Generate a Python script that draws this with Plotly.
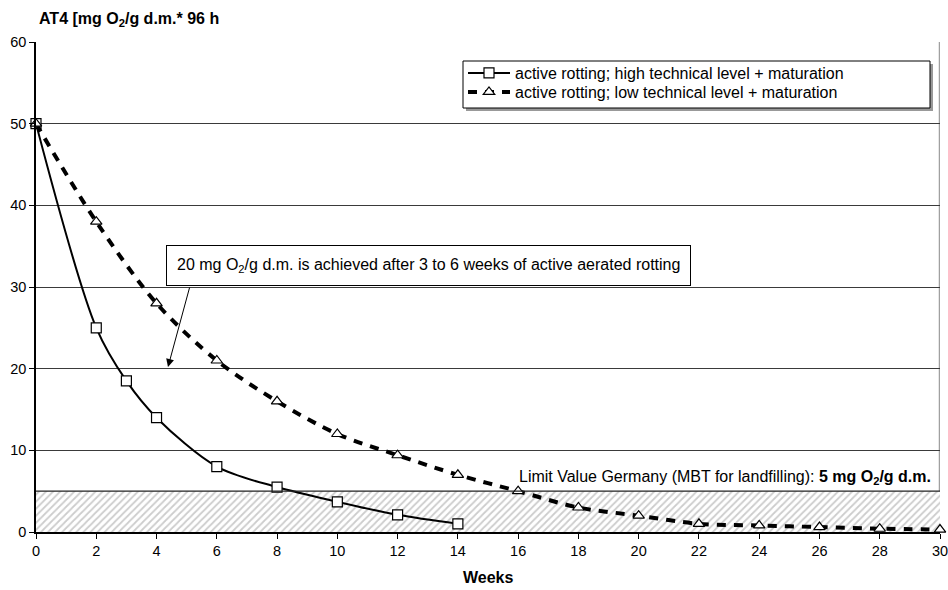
import plotly.graph_objects as go

# ---- data ----
weeks_high = [0, 2, 3, 4, 6, 8, 10, 12, 14]
at4_high = [50, 25, 18.5, 14, 8, 5.5, 3.7, 2.1, 1.0]
weeks_low = [0, 2, 4, 6, 8, 10, 12, 14, 16, 18, 20, 22, 24, 26, 28, 30]
at4_low = [50, 38, 28, 21, 16, 12, 9.4, 7, 5, 3, 2, 1, 0.8, 0.6, 0.4, 0.3]
limit_value = 5
x_ticks = list(range(0, 31, 2))
y_ticks = [0, 10, 20, 30, 40, 50, 60]
name_high = "active rotting; high technical level + maturation"
name_low = "active rotting; low technical level + maturation"

FONT = "Arial, Liberation Sans, Helvetica, sans-serif"
TXT = 16
TICK = 14.5

FIG_W, FIG_H = 948, 590
# plot area in pixels: x 36..940, y 42..532
L, R, T, B = 36, 940, 42, 532
W, H = R - L, B - T
def px(x):
    return (x - L) / W
def py(y):
    return (B - y) / H

fig = go.Figure()

# hatched limit zone
fig.add_trace(go.Scatter(
    x=[x_ticks[0], x_ticks[-1], x_ticks[-1], x_ticks[0], x_ticks[0]],
    y=[0, 0, limit_value, limit_value, 0],
    mode="lines", fill="toself", fillcolor="white",
    fillpattern=dict(shape="/", fgcolor="#9a9a9a", bgcolor="white", size=5, solidity=0.35),
    line=dict(width=0), showlegend=False, hoverinfo="skip"))

fig.add_trace(go.Scatter(
    x=weeks_high, y=at4_high, name=name_high, mode="lines+markers",
    line=dict(color="black", width=2, shape="spline", smoothing=0.9),
    marker=dict(symbol="square", size=10, color="white", line=dict(color="black", width=1.2)),
    cliponaxis=False, legend="legend"))

fig.add_trace(go.Scatter(
    x=weeks_low, y=at4_low, name=name_low, mode="lines+markers",
    line=dict(color="black", width=4, dash="9px,8px", shape="spline", smoothing=0.9),
    marker=dict(symbol="triangle-up", size=10, color="white", line=dict(color="black", width=1.2)),
    cliponaxis=False, legend="legend2"))

shapes = [
    dict(type="line", xref="x", yref="y", x0=0, x1=30, y0=limit_value, y1=limit_value,
         line=dict(color="#222", width=1.3), layer="above"),
    dict(type="line", xref="x", yref="y", x0=30, x1=30, y0=0, y1=60,
         line=dict(color="#a0a0a0", width=2.5), layer="below"),
    dict(type="rect", xref="paper", yref="paper", x0=px(466), x1=px(933), y0=py(111), y1=py(64),
         line=dict(width=0), fillcolor="#999", layer="above"),
    dict(type="rect", xref="paper", yref="paper", x0=px(463), x1=px(930), y0=py(108), y1=py(61),
         line=dict(color="black", width=1), fillcolor="white", layer="above"),
]

annotations = [
    dict(text="<b>AT4 [mg O<sub>2</sub>/g d.m.* 96 h</b>", xref="paper", yref="paper",
         x=px(37), y=py(20), xanchor="left", yanchor="middle", showarrow=False,
         font=dict(size=TXT, family=FONT, color="black")),
    dict(text="<b>Weeks</b>", xref="paper", yref="paper",
         x=px(488), y=py(577), xanchor="center", yanchor="middle", showarrow=False,
         font=dict(size=TXT, family=FONT, color="black")),
    dict(text="20 mg O<sub>2</sub>/g d.m. is achieved after 3 to 6 weeks of active aerated rotting",
         xref="paper", yref="paper", x=px(428), y=py(265), xanchor="center", yanchor="middle",
         showarrow=False, bordercolor="black", borderwidth=1, borderpad=10, bgcolor="white",
         font=dict(size=TXT, family=FONT, color="black")),
    dict(text="", xref="x", yref="y", x=4.38, y=20.2, axref="x", ayref="y",
         ax=(190 - L) / W * 30, ay=(B - 286) / H * 60,
         showarrow=True, arrowhead=2, arrowsize=1.6, arrowwidth=1, arrowcolor="black"),
    dict(text="Limit Value Germany (MBT for landfilling): <b>5 mg O<sub>2</sub>/g d.m.</b>",
         xref="paper", yref="paper", x=px(933), y=py(477), xanchor="right", yanchor="middle",
         showarrow=False, font=dict(size=TXT, family=FONT, color="black")),
]

legend_common = dict(xanchor="left", yanchor="top", bgcolor="rgba(0,0,0,0)", borderwidth=0,
                     itemwidth=42, font=dict(size=TXT, family=FONT, color="black"))

fig.update_layout(
    width=FIG_W, height=FIG_H,
    margin=dict(l=L, r=FIG_W - R, t=T, b=FIG_H - B, autoexpand=False),
    paper_bgcolor="white", plot_bgcolor="white",
    font=dict(family=FONT, size=TXT, color="black"),
    showlegend=True,
    legend=dict(x=px(463), y=py(56), **legend_common),
    legend2=dict(x=px(463), y=py(75), **legend_common),
    shapes=shapes, annotations=annotations,
)

fig.update_xaxes(range=[0, 30], tickvals=x_ticks, ticktext=[str(v) for v in x_ticks],
                 showgrid=False, zeroline=False, showline=True, linecolor="black", linewidth=2,
                 ticks="outside", ticklen=5, tickcolor="black", tickwidth=1,
                 ticklabeloverflow="allow",
                 tickfont=dict(size=TICK, family=FONT, color="black"))
fig.update_yaxes(range=[0, 60], tickvals=y_ticks, ticktext=[str(v) for v in y_ticks],
                 showgrid=True, gridcolor="#3a3a3a", gridwidth=1, zeroline=False,
                 showline=True, linecolor="black", linewidth=1.5,
                 ticks="outside", ticklen=5, tickcolor="black", tickwidth=1,
                 tickfont=dict(size=TICK, family=FONT, color="black"))

fig.write_html("out.html", config={"displayModeBar": False},
               post_script="document.body.style.margin='0';document.body.style.overflow='hidden';")
